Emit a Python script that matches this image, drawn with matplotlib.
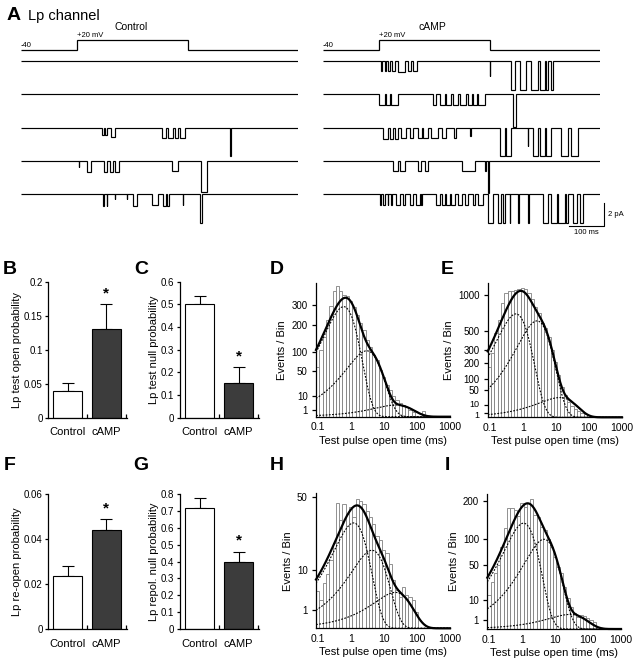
import numpy as np
import matplotlib.pyplot as plt
from matplotlib.transforms import ScaledTranslation

plt.rcParams['font.family'] = ['Liberation Sans', 'DejaVu Sans']
plt.rcParams['font.size'] = 7.5
plt.rcParams['axes.linewidth'] = 0.9

W, H = 638, 665

# ---------------- A: single-channel sweeps (openings: start ms, end ms, amplitude pA)
sweep_ms = 790
protocol_edges = [0, 160, 475, 790]
protocol_mv = [-40, 20, -40]

control_sweeps = [
    [],
    [],
    [(232, 236, 0.6), (240, 244, 0.6), (258, 268, 0.85), (403, 413, 0.9), (420, 434, 0.9),
     (439, 449, 0.9), (453, 468, 0.9), (596, 597.5, 2.5)],
    [(165, 166.5, 0.5), (187, 199, 0.95), (238, 244, 0.95), (254, 263, 0.95), (268, 280, 0.95),
     (430, 449, 0.9), (513, 530, 2.7)],
    [(235, 236.5, 1.0), (244, 245.5, 1.0), (268, 269.5, 0.4), (301, 302.5, 0.4), (320, 330, 1.0),
     (373, 392, 0.95), (406, 413, 1.0), (415, 422, 1.0), (461, 462.5, 0.9), (510, 517, 2.5)],
]

camp_sweeps = [
    [(166, 169, 0.9), (176, 181, 0.9), (185, 190, 0.9), (197, 206, 0.9), (214, 235, 0.95),
     (242, 252, 0.9), (257, 269, 0.9), (475, 476.5, 1.3), (537, 547, 2.5), (561, 580, 2.5),
     (594, 613, 2.5), (618, 632, 2.5), (637, 642, 2.5), (651, 656, 2.5)],
    [(159, 176, 0.95), (181, 190, 0.95), (195, 214, 0.95), (314, 323, 0.9), (333, 347, 0.9),
     (352, 366, 0.9), (371, 385, 0.9), (390, 409, 0.9), (414, 425, 0.9), (428, 440, 0.9),
     (443, 461, 0.9), (542, 551, 2.8)],
    [(171, 185, 0.95), (190, 200, 0.95), (204, 214, 0.95), (223, 238, 0.9), (247, 257, 0.9),
     (271, 281, 0.9), (285, 300, 0.9), (309, 328, 0.9), (338, 352, 0.9), (375, 380, 0.9),
     (418, 423, 0.7), (504, 518, 2.5), (523, 537, 2.5), (584, 586, 1.6), (599, 613, 2.5),
     (618, 632, 2.5), (637, 651, 2.5), (680, 699, 2.5), (708, 727, 2.5)],
    [(200, 214, 0.9), (219, 233, 0.9), (271, 280, 0.9), (290, 300, 0.9), (395, 433, 0.9),
     (461, 466, 0.9), (472, 474, 2.8)],
    [(162, 166, 0.9), (171, 176, 0.9), (185, 186.5, 0.9), (195, 196.5, 0.9), (209, 219, 0.9),
     (228, 235, 0.9), (247, 257, 0.9), (266, 276, 0.9), (280, 282, 0.9), (323, 333, 0.9),
     (338, 347, 0.9), (352, 361, 0.9), (366, 376, 0.9), (385, 395, 0.9), (404, 414, 0.9),
     (428, 433, 0.9), (442, 456, 0.9), (471, 485, 2.5), (499, 509, 2.5), (513, 520, 2.5),
     (532, 534, 2.5), (556, 558, 2.5), (585, 587, 2.5), (628, 642, 2.5), (651, 666, 2.5),
     (670, 689, 2.5), (694, 699, 2.5), (713, 723, 2.5), (732, 742, 2.5)],
]

# ---------------- B, C, F, G: bar summaries
groups = ['Control', 'cAMP']
test_open = [0.039, 0.131]
test_open_err = [0.012, 0.036]
test_null = [0.50, 0.153]
test_null_err = [0.036, 0.069]
reopen = [0.0236, 0.0441]
reopen_err = [0.0046, 0.0048]
repol_null = [0.717, 0.40]
repol_null_err = [0.063, 0.059]

# ---------------- D, E, H, I: open-time histograms (10 bins / decade)
bin_start_log = -1.06
bins_per_decade = 10
d_counts = [59, 107, 154, 225, 291, 376, 406, 376, 356, 350, 318, 287, 248, 209, 180, 141, 116,
            91, 77, 52, 38, 24, 17, 10, 6.7, 4.3, 3.3, 2.1, 1.1, 0.6, 0, 0, 0.9]
e_counts = [172, 274, 472, 634, 869, 1028, 1073, 1073, 1084, 1101, 1113, 1101, 1028, 937, 819,
            723, 591, 530, 435, 303, 207, 120, 63, 33, 16, 8.6, 4.3, 3.0, 1.5, 0.74, 0.3]
h_counts = [4.0, 2.3, 6, 8.7, 13.5, 21, 45.6, 34, 44.7, 38, 43, 36, 48.9, 47, 45, 40, 36, 31.9,
            25, 22.5, 17.7, 16.3, 12.2, 6.75, 4.2, 2.9, 5, 3.2, 2.9, 2.3, 0.8]
i_counts = [14, 27.5, 38, 50, 83, 124, 178, 178, 174, 155, 194, 183, 194, 206, 159, 153, 128, 120,
            98.5, 83, 64, 47.6, 38, 22, 11.5, 6.1, 3, 1.7, 2.4, 2.1, 1.4, 1.0, 0.66]
# fitted exponential components: (tau ms, peak events/bin)
d_fit = [(0.6, 290), (3.0, 104), (23, 3.3)]
e_fit = [(0.62, 714), (2.7, 621), (13, 26)]
h_fit = [(1.2, 32.3), (4.3, 17.7), (22, 3.75)]
i_fit = [(1.1, 137), (4.6, 98.5), (28, 2.6)]
time_ticks = [0.1, 1, 10, 100, 1000]


def rect(l, t, r, b):
    return [l / W, 1 - b / H, (r - l) / W, (b - t) / H]


fig = plt.figure(figsize=(W / 100, H / 100), dpi=100)

# ---------- panel A
pa_per_sweep = 2.9
for x0, x1, sweeps, title, tx in [(21, 298, control_sweeps, 'Control', 131),
                                  (323, 600, camp_sweeps, 'cAMP', 432)]:
    pax = fig.add_axes(rect(x0, 36, x1, 54))
    pax.stairs(protocol_mv, protocol_edges, baseline=None, color='k', lw=0.9)
    pax.set_xlim(0, sweep_ms)
    pax.set_ylim(-64, 44)
    pax.axis('off')
    pax.annotate('-40', (0, -40), xytext=(0, 1), textcoords='offset points',
                 ha='left', va='bottom', fontsize=5.5)
    pax.annotate('+20 mV', (protocol_edges[1], 20), xytext=(0, 1), textcoords='offset points',
                 ha='left', va='bottom', fontsize=5.5)
    fig.text(tx / W, 1 - 27 / H, title, ha='center', va='center', fontsize=7.5)

    tax = fig.add_axes(rect(x0, 55, x1, 240))
    for i, ops in enumerate(sweeps):
        edges, vals = [0], []
        for s, e, a in ops:
            vals += [0, -a]
            edges += [s, e]
        vals.append(0)
        edges.append(sweep_ms)
        tax.stairs(np.array(vals) - i * pa_per_sweep, edges, baseline=None, color='k', lw=0.85)
    tax.set_xlim(0, sweep_ms)
    tax.set_ylim(0.52 - 185 / 11.5, 0.52)
    tax.axis('off')
    if title == 'cAMP':
        sb_t, sb_y = 802, -14.35
        tax.plot([sb_t - 100, sb_t, sb_t], [sb_y, sb_y, sb_y + 2], color='k', lw=0.8,
                 clip_on=False)
        tax.text(sb_t + 10, sb_y + 1, '2 pA', ha='left', va='center', fontsize=5.5)
        tax.annotate('100 ms', (sb_t - 50, sb_y), xytext=(0, -2.5), textcoords='offset points',
                     ha='center', va='top', fontsize=5.5)

fig.text(14 / W, 1 - 15 / H, 'A', fontsize=14, fontweight='bold', ha='center', va='center')
fig.text(28 / W, 1 - 16 / H, 'Lp channel', fontsize=10.5, ha='left', va='center')


# ---------- bar panels
def bar_panel(box, vals, errs, ylim, ticks, labels, ylabel):
    ax = fig.add_axes(rect(*box))
    x = np.arange(len(vals))
    ax.bar(x, vals, width=0.76, color=['white', '#3c3c3c'], edgecolor='k', lw=0.8, zorder=2)
    ax.errorbar(x, vals, yerr=[[0, 0], errs], fmt='none', ecolor='k', elinewidth=0.8,
                capsize=4.5, capthick=0.8, zorder=1)
    ax.annotate('*', (1, vals[1] + errs[1]), xytext=(0, 3), textcoords='offset points',
                ha='center', va='bottom', fontsize=11, fontweight='bold')
    ax.set_xlim(-0.5, 1.53)
    ax.set_ylim(*ylim)
    ax.set_xticks(x)
    ax.set_xticklabels(groups, fontsize=8)
    ax.set_xticks([0.5, 1.5], minor=True)
    ax.tick_params(axis='x', which='major', length=0, pad=7)
    ax.tick_params(axis='x', which='minor', direction='in', length=3, width=0.9)
    ax.set_yticks(ticks)
    ax.set_yticklabels(labels, fontsize=7)
    ax.tick_params(axis='y', length=2.5, width=0.9, pad=1.5)
    ax.set_ylabel(ylabel, fontsize=8, labelpad=1.5)
    for s in ['top', 'right']:
        ax.spines[s].set_visible(False)
    return ax


bar_panel((48.3, 281.7, 126.7, 417.7), test_open, test_open_err, (0, 0.2),
          [0, 0.05, 0.1, 0.15, 0.2], ['0', '0.05', '0.1', '0.15', '0.2'],
          'Lp test open probability')
bar_panel((180, 281.7, 259.3, 417.7), test_null, test_null_err, (0, 0.6),
          np.arange(7) / 10, ['0', '0.1', '0.2', '0.3', '0.4', '0.5', '0.6'],
          'Lp test null probability')
bar_panel((48.3, 494.3, 126.7, 629), reopen, reopen_err, (0, 0.06),
          [0, 0.02, 0.04, 0.06], ['0', '0.02', '0.04', '0.06'],
          'Lp re-open probability')
bar_panel((180, 494.3, 259.3, 629), repol_null, repol_null_err, (0, 0.8),
          np.arange(9) / 10, ['0'] + ['0.%d' % k for k in range(1, 9)],
          'Lp repol. null probability')


# ---------- histogram panels
def sq(y):
    return np.sqrt(np.clip(y, 0, None))


def hist_panel(box, counts, fit, ytop, yticks):
    ax = fig.add_axes(rect(*box))
    n = len(counts)
    edges = 10 ** (bin_start_log + np.arange(n + 1) / bins_per_decade)
    ax.bar(edges[:-1], counts, width=np.diff(edges), align='edge', facecolor='white',
           edgecolor='0.5', lw=0.6, zorder=1)
    t = np.logspace(bin_start_log, 3, 500)
    comps = [peak * (t / tau) * np.exp(1 - t / tau) for tau, peak in fit]
    for c in comps:
        ax.plot(t, c, color='k', lw=0.8, ls=(0, (1.6, 1.3)), zorder=2)
    ax.plot(t, np.sum(comps, axis=0), color='k', lw=1.6, zorder=3, clip_on=False)
    ax.set_xscale('log')
    ax.set_yscale('function', functions=(sq, np.square))
    ax.set_xlim(10 ** bin_start_log, 1000)
    ax.set_ylim(0, ytop)
    ax.set_xticks(time_ticks)
    ax.set_xticklabels(['0.1', '1', '10', '100', '1000'], fontsize=7.5)
    ax.xaxis.set_minor_locator(plt.NullLocator())
    ax.set_yticks(yticks)
    ax.set_yticklabels([str(v) for v in yticks], fontsize=7)
    ax.yaxis.set_minor_locator(plt.NullLocator())
    ax.tick_params(axis='x', length=0, pad=4)
    ax.tick_params(axis='y', length=3, width=0.9, pad=3)
    ax.set_xlabel('Test pulse open time (ms)', fontsize=8, labelpad=2.5)
    ax.set_ylabel('Events / Bin', fontsize=8, labelpad=3)
    for s in ['top', 'right']:
        ax.spines[s].set_visible(False)
    return ax


hist_panel((316, 282.7, 450, 416.7), d_counts, d_fit, 430, [1, 10, 50, 100, 200, 300])
e_ax = hist_panel((487.7, 282.7, 622, 417.3), e_counts, e_fit, 1210,
                  [1, 10, 50, 100, 200, 300, 500, 1000])
# the lowest labels of E sit very close together; nudge them apart slightly
e_labels = e_ax.get_yticklabels()
e_labels[0].set_transform(e_labels[0].get_transform() + ScaledTranslation(0, -1.5 / 100, fig.dpi_scale_trans))
e_labels[1].set_transform(e_labels[1].get_transform() + ScaledTranslation(0, 1.5 / 100, fig.dpi_scale_trans))
e_labels[0].set_fontsize(6.5)
e_labels[1].set_fontsize(6.5)
hist_panel((316, 493.3, 450, 628.3), h_counts, h_fit, 53, [1, 10, 50])
hist_panel((487.3, 494, 621, 629), i_counts, i_fit, 223, [1, 10, 50, 100, 200])

for letter, x, y in [('B', 10, 269), ('C', 141, 269), ('D', 277, 269), ('E', 447, 269),
                     ('F', 10, 466), ('G', 141, 466), ('H', 277, 466), ('I', 447, 466)]:
    fig.text(x / W, 1 - y / H, letter, fontsize=14, fontweight='bold', ha='center', va='center')

fig.savefig('out.png', dpi=100)
